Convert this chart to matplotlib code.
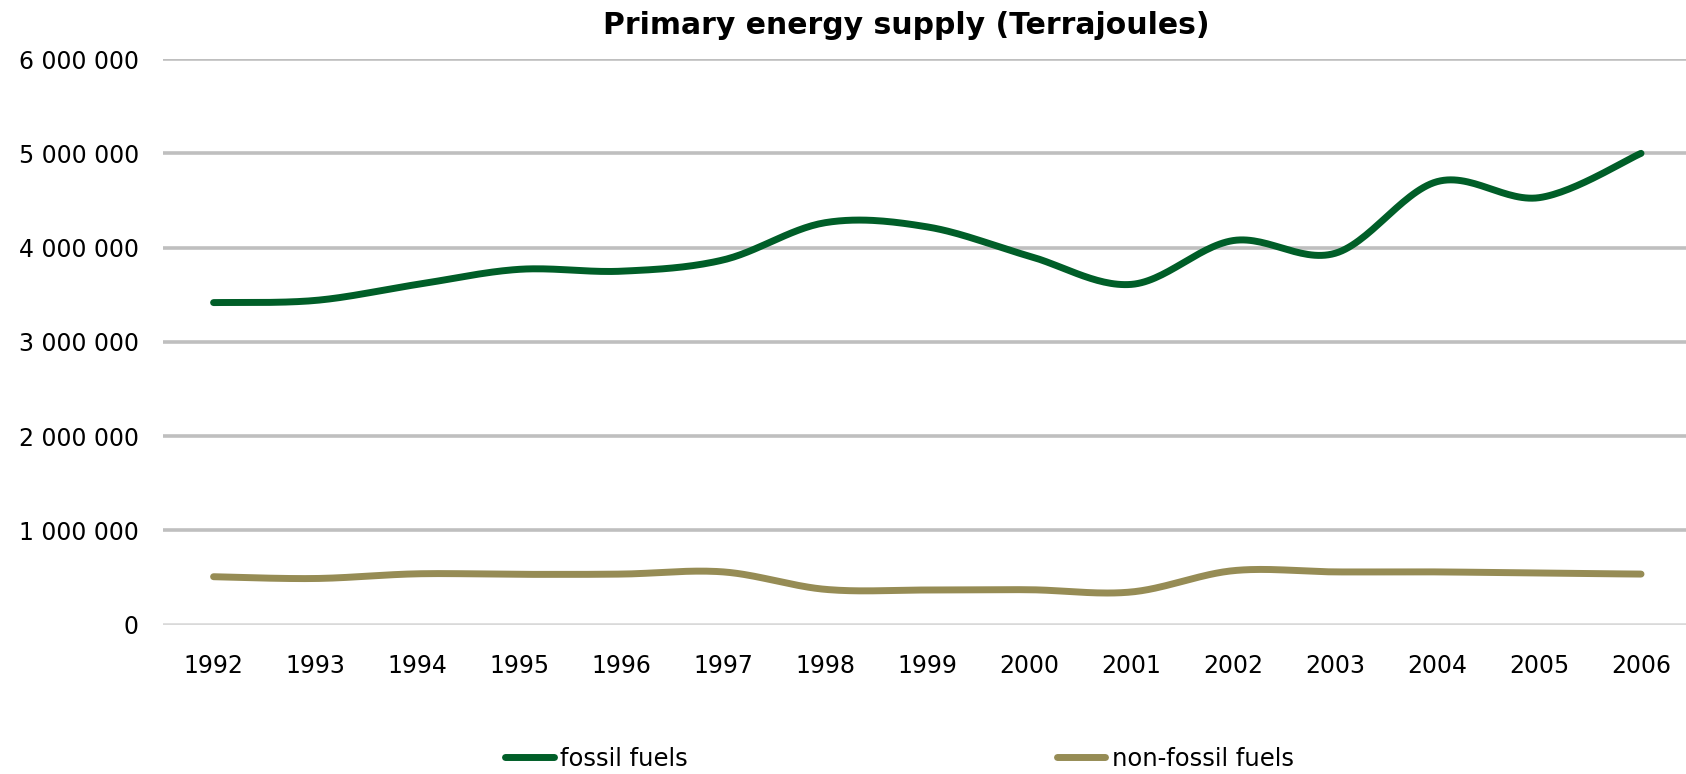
import numpy as np
import matplotlib
matplotlib.use("Agg")
import matplotlib.pyplot as plt

# Data (terajoules)
years = ["1992", "1993", "1994", "1995", "1996", "1997", "1998", "1999",
         "2000", "2001", "2002", "2003", "2004", "2005", "2006"]
fossil = [3417000, 3440000, 3610000, 3770000, 3750000, 3870000, 4265000, 4220000,
          3910000, 3610000, 4075000, 3940000, 4700000, 4530000, 5000000]
non_fossil = [509000, 490000, 540000, 534000, 537000, 560000, 375000, 368000,
              371000, 347000, 573000, 560000, 560000, 547000, 537000]

y_ticks = [0, 1000000, 2000000, 3000000, 4000000, 5000000, 6000000]

FOSSIL_COLOR = "#005E28"
NON_FOSSIL_COLOR = "#968C55"
GRID_COLOR = "#BFBFBF"


def smooth(xs, ys, n=30):
    """Excel-style smoothed line: Catmull-Rom spline through the points."""
    xs = np.asarray(xs, dtype=float)
    ys = np.asarray(ys, dtype=float)
    px = np.concatenate([[xs[0]], xs, [xs[-1]]])
    py = np.concatenate([[ys[0]], ys, [ys[-1]]])
    out_x, out_y = [], []
    t = np.linspace(0, 1, n, endpoint=False)
    for i in range(1, len(px) - 2):
        for p, out in ((px, out_x), (py, out_y)):
            p0, p1, p2, p3 = p[i - 1], p[i], p[i + 1], p[i + 2]
            # bezier control points
            c1 = p1 + (p2 - p0) / 6
            c2 = p2 - (p3 - p1) / 6
            out.extend((1 - t) ** 3 * p1 + 3 * (1 - t) ** 2 * t * c1
                       + 3 * (1 - t) * t ** 2 * c2 + t ** 3 * p2)
    out_x.append(xs[-1])
    out_y.append(ys[-1])
    return np.array(out_x), np.array(out_y)


fig = plt.figure(figsize=(16.86, 7.74), dpi=100)
ax = fig.add_axes([162.6 / 1686, 1 - 624.7 / 774, (1692 - 162.6) / 1686, (624.7 - 59.1) / 774])

x = np.arange(len(years))
for vals, color, label in ((fossil, FOSSIL_COLOR, "fossil fuels"),
                           (non_fossil, NON_FOSSIL_COLOR, "non-fossil fuels")):
    sx, sy = smooth(x, vals)
    ax.plot(sx, sy, color=color, lw=5, solid_capstyle="round", label=label, zorder=3)

ax.set_xlim(-0.5, len(years) - 0.5)
ax.set_ylim(0, 6000000)
ax.set_xticks(x)
ax.set_xticklabels(years)
ax.set_yticks(y_ticks)
ax.set_yticklabels([f"{v:,}".replace(",", " ") for v in y_ticks])
ax.tick_params(axis="both", length=0, labelsize=17, colors="black")
ax.tick_params(axis="x", pad=21)
ax.tick_params(axis="y", pad=17)
ax.grid(axis="y", color=GRID_COLOR, lw=2.6)
ax.set_axisbelow(True)
ax.get_ygridlines()[0].set_color("#D9D9D9")
for s in ax.spines.values():
    s.set_visible(False)

fig.text(906 / 1686, 1 - 26 / 774, "Primary energy supply (Terrajoules)",
         ha="center", va="center", fontsize=21.5, fontweight="bold")

fig.legend(loc="center left", bbox_to_anchor=(505 / 1686, 1 - 759 / 774), ncol=2,
           frameon=False, fontsize=17.5, handlelength=2.0, handletextpad=0.25,
           columnspacing=15.2, borderpad=0, borderaxespad=0)

fig.savefig("out.png", dpi=100)
